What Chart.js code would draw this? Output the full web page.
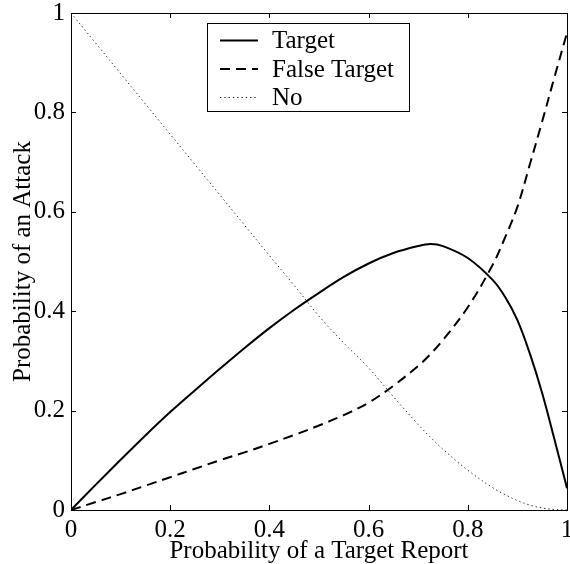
<!DOCTYPE html>
<html>
<head>
<meta charset="utf-8">
<script src="https://cdn.jsdelivr.net/npm/chart.js@4/dist/chart.umd.min.js"></script>
<style>
html,body{margin:0;padding:0;background:#fff;}
#wrap{width:570px;height:564px;}
</style>
</head>
<body>
<div id="wrap"><canvas id="c" width="570" height="564"></canvas></div>
<script>
const xValues = [0,0.05,0.1,0.15,0.2,0.25,0.3,0.35,0.4,0.45,0.5,0.55,0.6,0.65,0.7,0.725,0.75,0.8,0.85,0.875,0.9,0.925,0.95,0.975,1];
const targetValues = [0,0.051,0.101,0.150,0.197,0.241,0.284,0.326,0.366,0.403,0.437,0.469,0.496,0.517,0.531,0.535,0.531,0.507,0.463,0.429,0.382,0.315,0.235,0.141,0.044];
const falseTargetValues = [0,0.016,0.032,0.049,0.066,0.083,0.100,0.116,0.133,0.151,0.170,0.191,0.216,0.250,0.290,0.314,0.342,0.408,0.493,0.548,0.610,0.695,0.782,0.872,0.960];
const noValues = [1,0.939,0.878,0.817,0.756,0.695,0.634,0.573,0.512,0.452,0.39,0.336,0.286,0.228,0.172,0.146,0.122,0.080,0.045,0.031,0.019,0.010,0.004,0.001,0];
const seriesLabels = ["Target","False Target","No"];
const xTitle = "Probability of a Target Report";
const yTitle = "Probability of an Attack";

const FONT = "'Liberation Serif','Times New Roman',serif";
const FSIZE = 25;
const toPts = ys => xValues.map((x,i)=>({x:x,y:ys[i]}));
const fmt = v => String(+Number(v).toFixed(1));

const frame = {
  id:'frame',
  afterDraw(chart){
    const ctx = chart.ctx, a = chart.chartArea;
    const xs = chart.scales.x, ys = chart.scales.y;
    ctx.save();
    ctx.strokeStyle = '#000'; ctx.lineWidth = 1;
    ctx.strokeRect(Math.round(a.left)+0.5, Math.round(a.top)+0.5, Math.round(a.right-a.left), Math.round(a.bottom-a.top));
    const tl = 5;
    ctx.beginPath();
    xs.ticks.forEach(t=>{
      const p = Math.round(xs.getPixelForValue(t.value))+0.5;
      ctx.moveTo(p,a.bottom); ctx.lineTo(p,a.bottom-tl);
      ctx.moveTo(p,a.top); ctx.lineTo(p,a.top+tl);
    });
    ys.ticks.forEach(t=>{
      const p = Math.round(ys.getPixelForValue(t.value))+0.5;
      ctx.moveTo(a.left,p); ctx.lineTo(a.left+tl,p);
      ctx.moveTo(a.right,p); ctx.lineTo(a.right-tl,p);
    });
    ctx.stroke();
    ctx.fillStyle='#000';
    ctx.font = FSIZE+"px "+FONT;
    // x tick labels
    ctx.textAlign='center'; ctx.textBaseline='alphabetic';
    xs.ticks.forEach(t=>{
      ctx.fillText(fmt(t.value), xs.getPixelForValue(t.value), a.bottom+27);
    });
    // x title
    ctx.fillText(xTitle, (a.left+a.right)/2, a.bottom+48);
    // y title
    ctx.save();
    ctx.translate(30, (a.top+a.bottom)/2);
    ctx.rotate(-Math.PI/2);
    ctx.textAlign='center'; ctx.textBaseline='alphabetic';
    ctx.fillText(yTitle, 0, 0);
    ctx.restore();
    // legend
    const bx=207.5, by=23.5, bw=202, bh=88;
    ctx.fillStyle='#fff';
    ctx.fillRect(bx,by,bw,bh);
    ctx.strokeRect(bx,by,bw,bh);
    const rows=[40.5,69,97.5];
    ctx.textAlign='left';
    ctx.textBaseline='middle';
    chart.data.datasets.forEach((ds,i)=>{
      ctx.save();
      ctx.strokeStyle = ds.borderColor;
      ctx.lineWidth = ds.borderWidth;
      ctx.setLineDash(ds.borderDash||[]);
      ctx.beginPath(); ctx.moveTo(220,rows[i]); ctx.lineTo(258,rows[i]); ctx.stroke();
      ctx.restore();
      ctx.fillStyle='#000';
      ctx.fillText(ds.label,272,rows[i]+1);
    });
    ctx.restore();
  }
};

new Chart(document.getElementById('c'),{
  type:'line',
  data:{datasets:[
    {label:seriesLabels[0],data:toPts(targetValues),borderColor:'#000',borderWidth:2,pointRadius:0,tension:0.35,fill:false},
    {label:seriesLabels[1],data:toPts(falseTargetValues),borderColor:'#000',borderWidth:2,borderDash:[10,6],pointRadius:0,tension:0.35,fill:false},
    {label:seriesLabels[2],data:toPts(noValues),borderColor:'#222',borderWidth:1,borderDash:[1.3,3],pointRadius:0,tension:0.35,fill:false}
  ]},
  options:{
    responsive:false,animation:false,
    layout:{padding:{top:13,right:3,left:0,bottom:0}},
    plugins:{legend:{display:false},tooltip:{enabled:false}},
    scales:{
      x:{type:'linear',min:0,max:1,
        ticks:{stepSize:0.2,display:false},
        grid:{display:false,drawTicks:false},border:{display:false},
        title:{display:false,text:xTitle},
        afterFit(s){s.height=54;s.paddingLeft=0;s.paddingRight=0;}
      },
      y:{type:'linear',min:0,max:1,
        ticks:{stepSize:0.2,color:'#000',font:{family:FONT,size:FSIZE},padding:6,callback:fmt},
        grid:{display:false,drawTicks:false},border:{display:false},
        title:{display:false,text:yTitle},
        afterFit(s){s.width=71;s.paddingTop=0;s.paddingBottom=0;}
      }
    }
  },
  plugins:[frame]
});
</script>
</body>
</html>
